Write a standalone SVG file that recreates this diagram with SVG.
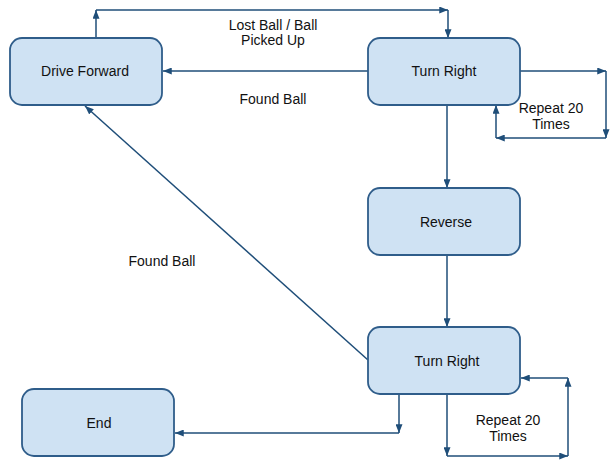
<svg xmlns="http://www.w3.org/2000/svg" width="613" height="466" viewBox="0 0 613 466">
<style>
.box{fill:#cfe2f3;stroke:#2f5d8a;stroke-width:1.8}
.t{font-family:"Liberation Sans",Arial,sans-serif;font-size:14px;fill:#111;text-anchor:middle}
.c{stroke:#1f4e79;stroke-width:1.5;fill:none;marker-end:url(#ah)}
</style>
<defs>
<marker id="ah" markerUnits="userSpaceOnUse" viewBox="0 0 10 8" refX="10" refY="4" markerWidth="9" markerHeight="7" orient="auto">
<path d="M0,0 L10,4 L0,8 Z" fill="#1f4e79"/>
</marker>
</defs>
<rect width="613" height="466" fill="#fff"/>
<g id="connectors">
<line class="c" x1="96" y1="38" x2="96" y2="10"/>
<line class="c" x1="96" y1="10" x2="448" y2="10"/>
<line class="c" x1="448" y1="10" x2="448" y2="38"/>
<line class="c" x1="368" y1="71" x2="163" y2="71"/>
<line class="c" x1="520" y1="71" x2="606" y2="71"/>
<line class="c" x1="606" y1="71" x2="606" y2="138"/>
<line class="c" x1="606" y1="138" x2="496" y2="138"/>
<line class="c" x1="496" y1="138" x2="496" y2="105"/>
<line class="c" x1="447" y1="105" x2="447" y2="188"/>
<line class="c" x1="447" y1="255" x2="447" y2="327"/>
<line class="c" x1="368" y1="360" x2="85" y2="106"/>
<line class="c" x1="447" y1="394" x2="447" y2="456"/>
<line class="c" x1="447" y1="456" x2="568" y2="456"/>
<line class="c" x1="568" y1="456" x2="568" y2="378"/>
<line class="c" x1="568" y1="378" x2="521" y2="378"/>
<line class="c" x1="399" y1="394" x2="399" y2="433"/>
<line class="c" x1="399" y1="433" x2="175" y2="433"/>
</g>
<g id="labels">
<text class="t" x="273" y="30">Lost Ball / Ball</text>
<text class="t" x="273" y="45">Picked Up</text>
<text class="t" x="273" y="104">Found Ball</text>
<text class="t" x="551" y="113">Repeat 20</text>
<text class="t" x="551" y="129">Times</text>
<text class="t" x="162" y="266">Found Ball</text>
<text class="t" x="508" y="425">Repeat 20</text>
<text class="t" x="508" y="441">Times</text>
</g>
<g id="drive-forward">
<rect class="box" x="10" y="38" width="152" height="67" rx="12"/>
<text class="t" x="85" y="76">Drive Forward</text>
</g>
<g id="turn-right-1">
<rect class="box" x="368" y="38" width="152" height="67" rx="12"/>
<text class="t" x="444" y="76">Turn Right</text>
</g>
<g id="reverse">
<rect class="box" x="368" y="188" width="152" height="67" rx="12"/>
<text class="t" x="446" y="227">Reverse</text>
</g>
<g id="turn-right-2">
<rect class="box" x="368" y="327" width="152" height="67" rx="12"/>
<text class="t" x="447" y="366">Turn Right</text>
</g>
<g id="end">
<rect class="box" x="22" y="389" width="152" height="67" rx="12"/>
<text class="t" x="99" y="428">End</text>
</g>
</svg>
